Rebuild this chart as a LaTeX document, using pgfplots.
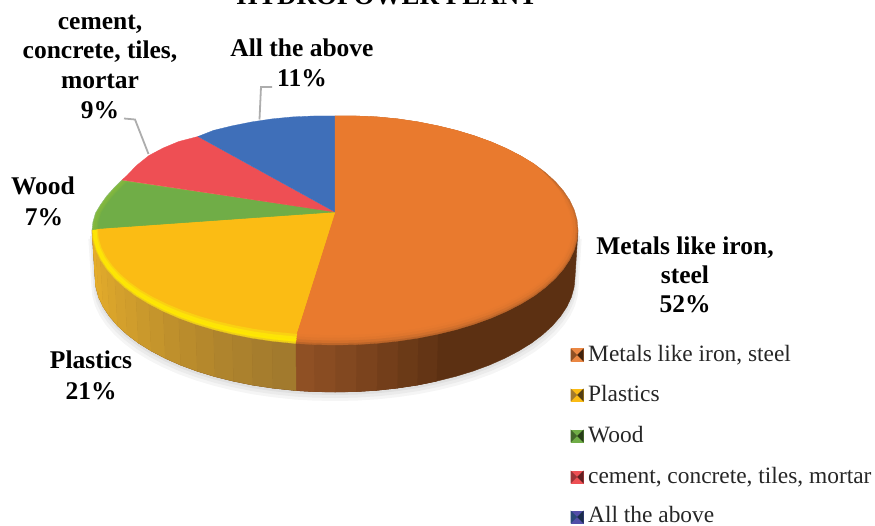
\documentclass[border=0pt]{standalone}
\usepackage{pgfplots}
\usepackage{pgfplotstable}
\usepackage{fontspec}
\setmainfont{Liberation Serif}
\pgfplotsset{compat=1.18}

% Face colours of the slices
\definecolor{cO}{HTML}{E97A2E}
\definecolor{cY}{HTML}{FBBC14}
\definecolor{cG}{HTML}{70AD47}
\definecolor{cR}{HTML}{EE4F54}
\definecolor{cB}{HTML}{3F6FB9}
% Side wall colours
\definecolor{rimO}{HTML}{8F5024}
\definecolor{rimOd}{HTML}{5C3012}
\definecolor{rimY}{HTML}{E5AD2B}
\definecolor{rimYd}{HTML}{A27A2D}

% Slice outlines: centre point, then the rim clockwise
\pgfplotstableread[row sep=\\]{x y\\
335 212\\ 335 116\\ 356.2 116\\ 377.2 116.9\\ 397.9 118.9\\ 418.1 121.9\\ 437.7 125.8\\ 456.5 130.4\\ 474.4 135.8\\ 491.2 141.9\\ 506.8 148.7\\ 521.1 156.1\\ 534.1 164\\ 545.4 172.5\\ 555.2 181.4\\ 563.3 190.7\\ 569.7 200.2\\ 574.3 210\\ 577.1 220\\ 578 230\\ 577.1 240\\ 574.3 250\\ 569.7 259.8\\ 563.3 269.3\\ 555.2 278.6\\ 545.4 287.5\\ 534.1 296\\ 521.1 303.9\\ 506.8 311.3\\ 491.2 318.1\\ 474.4 324.2\\ 456.5 329.6\\ 437.7 334.2\\ 418.1 338.1\\ 397.9 341.1\\ 377.2 343.3\\ 356.2 344.6\\ 335 345\\ 313.8 344.6\\ 295.5 343.5\\
}\wedgeMetals
% Back part of the largest slice, which has no shaded edge
\pgfplotstableread[row sep=\\]{x y\\
335 212\\ 335 116\\ 356.2 116\\ 377.2 116.9\\ 397.9 118.9\\ 418.1 121.9\\ 437.7 125.8\\ 456.5 130.4\\ 474.4 135.8\\ 491.2 141.9\\ 506.8 148.7\\ 521.1 156.1\\ 534.1 164\\ 544 173\\ 553 182.5\\ 560.5 192.5\\ 565 201\\
}\wedgeMetalsBack
\pgfplotstableread[row sep=\\]{x y\\
335 212\\ 295.5 343.5\\ 272.1 341.1\\ 251.9 338.1\\ 232.3 334.2\\ 213.5 329.6\\ 195.6 324.2\\ 178.8 318.1\\ 163.2 311.3\\ 148.9 303.9\\ 135.9 296\\ 124.6 287.5\\ 114.8 278.6\\ 106.7 269.3\\ 100.3 259.8\\ 95.7 250\\ 92.9 240\\ 92 230\\
}\wedgePlastics
\pgfplotstableread[row sep=\\]{x y\\
335 212\\ 92 230\\ 92.9 222\\ 95.5 213\\ 100.3 205\\ 106.7 196\\ 114.8 187\\ 122 180\\
}\wedgeWood
\pgfplotstableread[row sep=\\]{x y\\
335 212\\ 122 180\\ 127 175.5\\ 136.5 165.5\\ 149 155.5\\ 163.2 148\\ 178.8 141.5\\ 198 136.5\\
}\wedgeCement
\pgfplotstableread[row sep=\\]{x y\\
335 212\\ 198 136.5\\ 213.5 130.4\\ 232.3 125.8\\ 251.9 121.9\\ 272.1 118.9\\ 292.8 116.9\\ 313.8 116\\ 335 116\\
}\wedgeAll
% Lower outline of the pie body, for the dark wall and the soft shadow
\pgfplotstableread[row sep=\\]{x y\\
578 230\\ 575 277\\ 574.1 287\\ 571.4 297\\ 566.8 306.8\\ 560.5 316.3\\ 552.5 325.6\\ 542.8 334.5\\ 531.6 343\\ 518.8 350.9\\ 504.7 358.3\\ 489.3 365.1\\ 472.7 371.2\\ 455 376.6\\ 436.4 381.2\\ 417.1 385.1\\ 397.1 388.1\\ 376.7 390.3\\ 355.9 391.6\\ 335 392\\ 314.1 391.6\\ 296 390.6\\ 272.9 388.1\\ 252.9 385.1\\ 233.6 381.2\\ 215 376.6\\ 197.3 371.2\\ 180.7 365.1\\ 165.3 358.3\\ 151.2 350.9\\ 138.4 343\\ 127.2 334.5\\ 117.5 325.6\\ 109.5 316.3\\ 103.2 306.8\\ 98.6 297\\ 95.9 287\\ 95 277\\ 92 230\\
}\bodyOutline

% One quad of the side wall: colour, x1 y1 xb1, x2 y2 xb2 (wall height 47)
\newcommand\rimq[7]{%
  \pgfmathsetmacro\ya{#3+47}\pgfmathsetmacro\yb{#6+47}%
  \edef\temp{\noexpand\addplot[fill=#1,draw=#1,line width=0.5pt] coordinates
    {(#2,#3) (#5,#6) (#7,\yb) (#4,\ya) (#2,#3)};}\temp
}
% The two lower slices and the wood slice at one scale about the centre point
\newcommand\pielayer[5]{%
  \addplot[fill=#3,draw=#3,line width=0.3pt,x filter/.expression={335+#1*(x-335)},y filter/.expression={212+#2*(y-212)}] table {\wedgeMetals};
  \addplot[fill=#4,draw=#4,line width=0.3pt,x filter/.expression={335+#1*(x-335)},y filter/.expression={212+#2*(y-212)}] table {\wedgePlastics};
  \addplot[fill=#5,draw=#5,line width=0.3pt,x filter/.expression={335+#1*(x-335)},y filter/.expression={212+#2*(y-212)}] table {\wedgeWood};
}
% Small pyramid-shaded legend key
\newcommand\defkey[4]{%
  \pgfdeclareplotmark{#1}{%
    \pgfsetlinewidth{0pt}%
    \pgfsetfillcolor{#2}\pgfpathrectangle{\pgfpoint{-6.5pt}{-6.5pt}}{\pgfpoint{13pt}{13pt}}\pgfusepathqfill
    \pgfsetfillcolor{#3}\pgfpathmoveto{\pgfpoint{-6.5pt}{6.5pt}}\pgfpathlineto{\pgfpoint{0pt}{0pt}}\pgfpathlineto{\pgfpoint{-6.5pt}{-6.5pt}}\pgfpathclose\pgfusepathqfill
    \pgfsetfillcolor{#4}\pgfpathmoveto{\pgfpoint{6.5pt}{6.5pt}}\pgfpathlineto{\pgfpoint{0pt}{0pt}}\pgfpathlineto{\pgfpoint{6.5pt}{-6.5pt}}\pgfpathclose\pgfusepathqfill
  }%
}
\defkey{keyO}{cO!90!white}{rimO}{rimOd!70!black}
\defkey{keyY}{cY}{rimYd}{rimYd!50!black}
\defkey{keyG}{cG}{cG!60!black}{cG!35!black}
\defkey{keyR}{cR}{cR!65!black}{cR!40!black}
\defkey{keyB}{cB!70!violet}{cB!65!black}{cB!40!black}

\newcommand\lbl[3]{\node[anchor=base,font=\fontsize{25.5}{29}\selectfont\bfseries,inner sep=0pt] at (axis cs:#1,#2) {#3};}
\newcommand\legtxt[2]{\node[anchor=base west,font=\fontsize{23.4}{27}\selectfont,text=black!85,inner sep=0pt] at (axis cs:588,#1) {#2};}

\begin{document}
\begin{tikzpicture}
\useasboundingbox (0,0) rectangle (875pt,526pt);
\clip (0,0) rectangle (875pt,526pt);
\begin{axis}[
  at={(0,0)},anchor=south west,
  scale only axis,width=875pt,height=526pt,
  xmin=0,xmax=875,ymin=0,ymax=526,y dir=reverse,
  hide axis,clip=false]

  % Soft shadow under the body
  \addplot[fill=black!4,draw=none,x filter/.expression={335+1.015*(x-335)},y filter/.expression={y+9}] table {\bodyOutline};
  \addplot[fill=black!8,draw=none,x filter/.expression={335+1.008*(x-335)},y filter/.expression={y+6}] table {\bodyOutline};
  \addplot[fill=black!12,draw=none,x filter/.expression={335+1.003*(x-335)},y filter/.expression={y+3}] table {\bodyOutline};

  % Side wall: dark base, then the lighter strips towards the left
  \addplot[fill=rimOd,draw=rimOd,line width=0.4pt] table {\bodyOutline};
  \rimq{rimOd!85!rimO}{437.7}{334.2}{436.4}{418.1}{338.1}{417.1}
  \rimq{rimOd!70!rimO}{418.1}{338.1}{417.1}{397.9}{341.1}{397.1}
  \rimq{rimOd!55!rimO}{397.9}{341.1}{397.1}{377.2}{343.3}{376.7}
  \rimq{rimOd!40!rimO}{377.2}{343.3}{376.7}{356.2}{344.6}{355.9}
  \rimq{rimOd!25!rimO}{356.2}{344.6}{355.9}{335}{345}{335}
  \rimq{rimOd!12!rimO}{335}{345}{335}{313.8}{344.6}{314.1}
  \rimq{rimO}{313.8}{344.6}{314.1}{295.5}{343.5}{296}
  \rimq{rimY!100!rimY}{92.9}{240}{95.9}{92}{230}{95}
  \rimq{rimY}{95.7}{250}{98.6}{92.9}{240}{95.9}
  \rimq{rimYd!6!rimY}{100.3}{259.8}{103.2}{95.7}{250}{98.6}
  \rimq{rimYd!12!rimY}{106.7}{269.3}{109.5}{100.3}{259.8}{103.2}
  \rimq{rimYd!18!rimY}{114.8}{278.6}{117.5}{106.7}{269.3}{109.5}
  \rimq{rimYd!25!rimY}{124.6}{287.5}{127.2}{114.8}{278.6}{117.5}
  \rimq{rimYd!32!rimY}{135.9}{296}{138.4}{124.6}{287.5}{127.2}
  \rimq{rimYd!40!rimY}{148.9}{303.9}{151.2}{135.9}{296}{138.4}
  \rimq{rimYd!48!rimY}{163.2}{311.3}{165.3}{148.9}{303.9}{151.2}
  \rimq{rimYd!56!rimY}{178.8}{318.1}{180.7}{163.2}{311.3}{165.3}
  \rimq{rimYd!64!rimY}{195.6}{324.2}{197.3}{178.8}{318.1}{180.7}
  \rimq{rimYd!72!rimY}{213.5}{329.6}{215}{195.6}{324.2}{197.3}
  \rimq{rimYd!80!rimY}{232.3}{334.2}{233.6}{213.5}{329.6}{215}
  \rimq{rimYd!87!rimY}{251.9}{338.1}{252.9}{232.3}{334.2}{233.6}
  \rimq{rimYd!94!rimY}{272.1}{341.1}{272.9}{251.9}{338.1}{252.9}
  \rimq{rimYd}{295.5}{343.5}{296}{272.1}{341.1}{272.9}

  % Top face: bevel rings from the edge inwards, then the flat face
  \pielayer{1}{1}{cO!50!rimO}{rimY!60!yellow}{cG!85!white}
  \pielayer{0.996}{0.985}{cO!75!rimO}{yellow!90!orange}{cG!85!yellow}
  \pielayer{0.99}{0.965}{cO!90!rimO}{yellow!75!cY}{cG!90!yellow}
  \pielayer{0.98}{0.945}{cO!97!rimO}{yellow!40!cY}{cG!95!yellow}
  \pielayer{0.975}{0.925}{cO}{cY}{cG}
  \addplot[fill=cR,draw=cR,line width=0.3pt] table {\wedgeCement};
  \addplot[fill=cB,draw=cB,line width=0.3pt] table {\wedgeAll};
  \addplot[fill=cO,draw=cO,line width=0.3pt] table {\wedgeMetalsBack};

  % Leader lines to the two outer labels
  \addplot[draw=black!32,line width=1.8pt] coordinates {(124,118.5) (135,119.5) (148.5,154)};
  \addplot[draw=black!32,line width=1.8pt] coordinates {(272,87) (261,87) (259.5,119.5)};

  % Legend keys
  \addplot[only marks,mark=keyO] coordinates {(577,355)};
  \addplot[only marks,mark=keyY] coordinates {(577,395)};
  \addplot[only marks,mark=keyG] coordinates {(577,436)};
  \addplot[only marks,mark=keyR] coordinates {(577,477)};
  \addplot[only marks,mark=keyB] coordinates {(577,517)};

  % Title, cut by the top of the page
  \node[anchor=base,font=\fontsize{27}{30}\selectfont\bfseries,inner sep=0pt] at (axis cs:387,5) {HYDROPOWER PLANT};

  % Slice labels
  \lbl{100}{30}{cement,}
  \lbl{100}{59}{concrete, tiles,}
  \lbl{100}{89}{mortar}
  \lbl{100}{119}{9\%}
  \lbl{302}{57}{All the above}
  \lbl{302}{87}{11\%}
  \lbl{43}{195}{Wood}
  \lbl{44}{226}{7\%}
  \lbl{685}{255}{Metals like iron,}
  \lbl{685}{284}{steel}
  \lbl{685}{313}{52\%}
  \lbl{91}{368}{Plastics}
  \lbl{91}{399}{21\%}

  % Legend text
  \legtxt{362}{Metals like iron, steel}
  \legtxt{401}{Plastics}
  \legtxt{442}{Wood}
  \legtxt{483}{cement, concrete, tiles, mortar}
  \legtxt{522}{All the above}
\end{axis}
\end{tikzpicture}
\end{document}
